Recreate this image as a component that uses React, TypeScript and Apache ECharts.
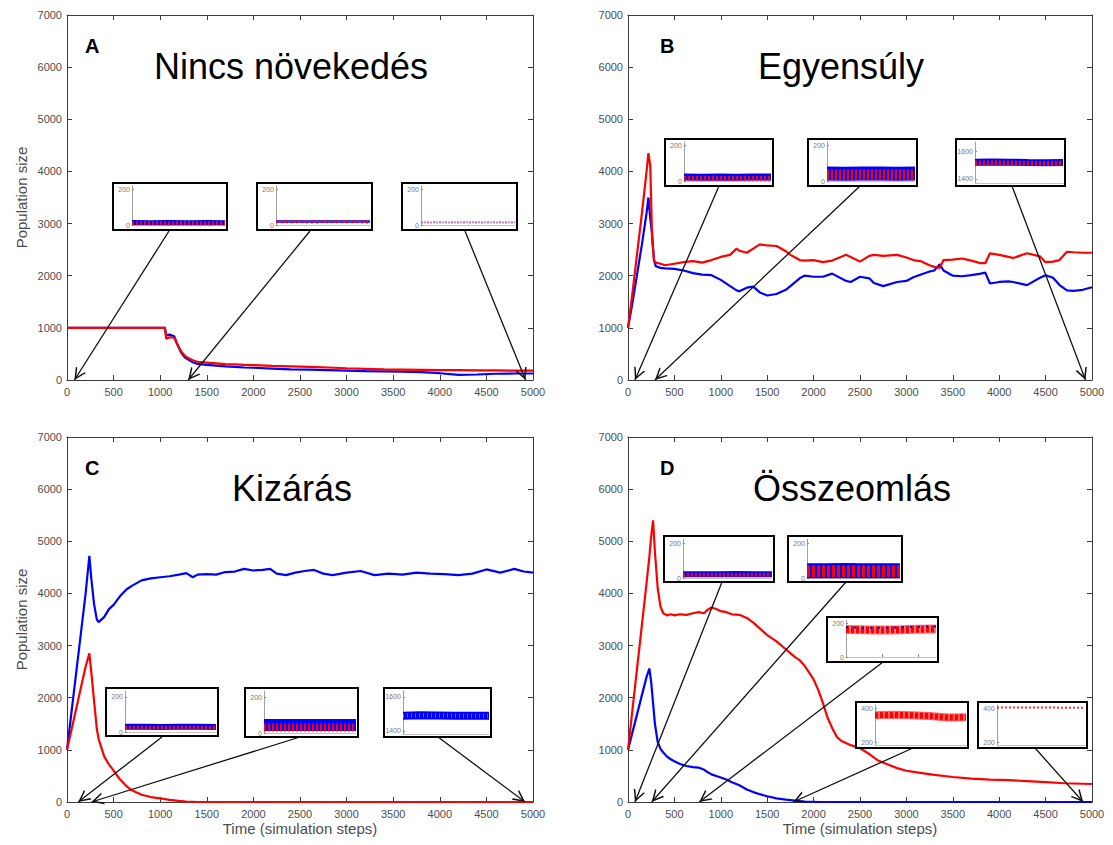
import React, { useEffect, useRef } from "react";
import * as echarts from "echarts";

// ---------------- Panel A: Nincs növekedés ----------------
const aTime = [0, 500, 1000, 1050, 1065, 1100, 1150, 1180, 1220, 1260, 1300, 1350, 1400, 1500, 1600, 1700, 1800, 1900, 2000, 2200, 2400, 2600, 2800, 3000, 3200, 3400, 3600, 3800, 4000, 4200, 4400, 4600, 4800, 5000];
const aRed = [1000, 1000, 1000, 1000, 790, 820, 810, 700, 560, 470, 420, 380, 350, 335, 320, 305, 300, 290, 285, 270, 260, 250, 240, 225, 215, 205, 200, 195, 190, 190, 185, 185, 180, 180];
const aBlue = [1000, 1000, 1000, 1000, 860, 870, 840, 700, 540, 440, 390, 340, 310, 290, 275, 260, 250, 240, 235, 220, 205, 200, 190, 180, 170, 165, 160, 150, 130, 100, 105, 120, 125, 125];
const aArrowT = [80, 1300, 4920];

// ---------------- Panel B: Egyensúly ----------------
const bTime = [0, 50, 100, 150, 200, 220, 240, 260, 280, 300, 350, 400, 500, 600, 700, 800, 900, 1000, 1100, 1170, 1200, 1280, 1350, 1420, 1500, 1600, 1700, 1750, 1850, 1900, 2000, 2100, 2200, 2350, 2400, 2500, 2600, 2650, 2750, 2900, 3000, 3075, 3150, 3250, 3300, 3360, 3400, 3500, 3600, 3700, 3800, 3850, 3900, 4000, 4100, 4150, 4300, 4440, 4500, 4580, 4650, 4730, 4800, 4900, 5000];
const bRed = [1000, 1700, 2450, 3200, 4000, 4350, 4100, 2700, 2300, 2250, 2230, 2200, 2230, 2260, 2280, 2250, 2300, 2360, 2400, 2520, 2480, 2440, 2520, 2600, 2580, 2570, 2470, 2400, 2300, 2290, 2300, 2260, 2290, 2400, 2360, 2270, 2380, 2400, 2380, 2400, 2350, 2300, 2280, 2200, 2170, 2150, 2300, 2310, 2330, 2290, 2240, 2240, 2430, 2400, 2360, 2340, 2430, 2370, 2260, 2270, 2300, 2460, 2450, 2440, 2440];
const bBlue = [1000, 1500, 2050, 2600, 3200, 3500, 3100, 2800, 2300, 2180, 2150, 2140, 2130, 2100, 2050, 2020, 2010, 1920, 1800, 1720, 1700, 1770, 1790, 1680, 1620, 1650, 1730, 1800, 1950, 2000, 1980, 1980, 2040, 1900, 1880, 1980, 1950, 1860, 1800, 1880, 1900, 1970, 2020, 2080, 2100, 2220, 2100, 2000, 1990, 2010, 2040, 2060, 1850, 1880, 1890, 1880, 1820, 1960, 2010, 1960, 1820, 1720, 1710, 1730, 1780];
const bArrowT = [75, 290, 4930];

// ---------------- Panel C: Kizárás ----------------
const cTime = [0, 50, 100, 150, 200, 240, 260, 290, 320, 340, 400, 450, 500, 570, 640, 700, 800, 900, 1000, 1100, 1200, 1280, 1350, 1400, 1500, 1600, 1700, 1800, 1900, 2000, 2100, 2180, 2250, 2350, 2450, 2550, 2650, 2750, 2850, 3000, 3150, 3300, 3450, 3600, 3750, 3900, 4050, 4200, 4350, 4500, 4650, 4800, 4900, 5000];
const cBlue = [1000, 1750, 2500, 3250, 4000, 4720, 4300, 3800, 3500, 3450, 3550, 3700, 3780, 3950, 4080, 4150, 4250, 4290, 4310, 4330, 4360, 4390, 4310, 4360, 4370, 4360, 4410, 4420, 4470, 4440, 4450, 4470, 4380, 4350, 4400, 4430, 4450, 4380, 4350, 4400, 4430, 4350, 4380, 4360, 4400, 4380, 4370, 4350, 4380, 4460, 4400, 4470, 4420, 4400];
const cRed = [1000, 1400, 1800, 2200, 2600, 2850, 2500, 1950, 1400, 1200, 870, 720, 600, 430, 300, 220, 140, 95, 70, 40, 20, 10, 5, 0, 0, 0, 0, 0, 0, 0, 0, 0, 0, 0, 0, 0, 0, 0, 0, 0, 0, 0, 0, 0, 0, 0, 0, 0, 0, 0, 0, 0, 0, 0];
const cArrowT = [120, 262, 4915];

// ---------------- Panel D: Összeomlás ----------------
const dTime = [0, 50, 100, 150, 200, 230, 250, 270, 290, 320, 350, 380, 420, 460, 500, 560, 630, 700, 760, 820, 860, 900, 950, 1000, 1060, 1120, 1200, 1280, 1350, 1420, 1500, 1600, 1700, 1800, 1850, 1900, 2000, 2050, 2100, 2150, 2200, 2250, 2300, 2400, 2500, 2600, 2700, 2800, 2900, 3000, 3150, 3300, 3500, 3700, 3900, 4100, 4300, 4500, 4700, 4900, 5000];
const dRed = [1000, 1800, 2600, 3400, 4200, 4700, 5100, 5400, 4800, 4100, 3750, 3620, 3580, 3600, 3580, 3600, 3590, 3620, 3640, 3620, 3690, 3730, 3700, 3660, 3640, 3600, 3590, 3530, 3440, 3330, 3200, 3080, 2930, 2780, 2720, 2620, 2350, 2150, 1900, 1620, 1420, 1250, 1170, 1090, 1030, 920, 790, 720, 650, 600, 560, 520, 480, 450, 430, 420, 400, 380, 360, 350, 345];
const dBlue = [1000, 1350, 1700, 2050, 2400, 2560, 2300, 1900, 1500, 1150, 1020, 950, 870, 820, 780, 730, 690, 670, 660, 620, 570, 530, 500, 470, 430, 380, 320, 240, 190, 150, 110, 70, 45, 25, 15, 10, 5, 0, 0, 0, 0, 0, 0, 0, 0, 0, 0, 0, 0, 0, 0, 0, 0, 0, 0, 0, 0, 0, 0, 0, 0];
const dArrowT = [75, 255, 768, 1781, 4905];

// ---------------- Inset bands (band centre values) ----------------
const insA1Blue = [14, 13, 14, 13, 14, 13];
const insA1Red = [10, 11, 10, 11, 10, 11];
const insA2Blue = [20, 19, 20, 20, 19, 20];
const insA2Red = [18, 18, 17, 18, 18, 17];
const insA3Blue = [14, 15, 14, 14, 15, 14];
const insA3Red = [15, 14, 15, 15, 14, 15];
const insB1Blue = [22, 21, 22, 21, 22, 22];
const insB1Red = [15, 16, 15, 16, 15, 16];
const insB2Blue = [42, 41, 42, 42, 41, 42];
const insB2Red = [35, 36, 35, 36, 35, 36];
const insB3Blue = [1522, 1524, 1522, 1520, 1519, 1520];
const insB3Red = [1516, 1518, 1516, 1514, 1513, 1515];
const insC1Blue = [30, 30, 29, 30, 30, 29];
const insC1Red = [24, 24, 25, 24, 24, 25];
const insC2Blue = [44, 45, 44, 45, 44, 45];
const insC2Red = [30, 30, 31, 30, 31, 30];
const insC3Blue = [1490, 1492, 1491, 1490, 1489, 1490];
const insD1Blue = [22, 21, 22, 23, 22, 22];
const insD1Red = [18, 18, 19, 18, 18, 19];
const insD2Blue = [42, 41, 43, 42, 41, 42];
const insD2Red = [38, 39, 38, 38, 39, 38];
const insD3Red = [165, 163, 162, 164, 167, 168];
const insD3Blue = [178, 176, 175, 178, 182, 183];
const insD4Red = [360, 362, 360, 355, 346, 348];
const insD5Red = [405, 406, 405, 405, 404, 403];

const xTickInterval = 500;
const yTickInterval = 1000;

const FONT = '"Liberation Sans", Arial, Helvetica, sans-serif';
const RED = "#ff0000";
const BLUE = "#0000ff";
const AXIS = "#3c3c3c";
const LABEL = "#4d4d4d";

const panels = [
  { letter: "A", title: "Nincs növekedés", left: 67, top: 15, width: 466, height: 365, titleX: 291, letterX: 85, time: aTime, red: aRed, blue: aBlue, arrowT: aArrowT, arrowFrom: [[169, 231], [310, 231], [465, 231]], yName: true, xName: false },
  { letter: "B", title: "Egyensúly", left: 628, top: 15, width: 464, height: 365, titleX: 841, letterX: 660, time: bTime, red: bRed, blue: bBlue, arrowT: bArrowT, arrowFrom: [[719, 186], [860, 186], [1012, 186]], yName: false, xName: false },
  { letter: "C", title: "Kizárás", left: 67, top: 437, width: 466, height: 365, titleX: 292, letterX: 85, time: cTime, red: cRed, blue: cBlue, arrowT: cArrowT, arrowFrom: [[162, 737], [300, 737], [438, 737]], yName: true, xName: true },
  { letter: "D", title: "Összeomlás", left: 628, top: 437, width: 464, height: 365, titleX: 852, letterX: 660, time: dTime, red: dRed, blue: dBlue, arrowT: dArrowT, arrowFrom: [[722, 582], [846, 582], [883, 662], [913, 748], [1035, 748]], yName: false, xName: true },
];

type Layer = { d: number[]; c: string; w: number; dash?: number[]; off?: number };
type Inset = { box: number[]; yMin: number; yMax: number; bOff: number; labels: number[]; xTicks?: number[]; layers: Layer[] };

const insets: Inset[] = [
  { box: [113, 183, 114, 47], yMin: 0, yMax: 217, bOff: 5, labels: [0, 200], layers: [{ d: insA1Blue, c: BLUE, w: 5 }, { d: insA1Red, c: RED, w: 4, dash: [2, 2] }] },
  { box: [257, 183, 115, 47], yMin: 0, yMax: 217, bOff: 5, labels: [0, 200], layers: [{ d: insA2Blue, c: "#3a3aff", w: 3 }, { d: insA2Red, c: RED, w: 3, dash: [2, 3] }] },
  { box: [402, 183, 115, 47], yMin: 0, yMax: 217, bOff: 5, labels: [0, 200], layers: [{ d: insA3Blue, c: "#7a7aff", w: 2, dash: [2, 4] }, { d: insA3Red, c: "#ff7a7a", w: 2, dash: [2, 4], off: 3 }] },
  { box: [665, 139, 108, 47], yMin: 0, yMax: 221, bOff: 5, labels: [0, 200], layers: [{ d: insB1Blue, c: BLUE, w: 7 }, { d: insB1Red, c: RED, w: 5, dash: [2, 2] }] },
  { box: [808, 139, 109, 47], yMin: 0, yMax: 221, bOff: 5, labels: [0, 200], layers: [{ d: insB2Blue, c: BLUE, w: 14 }, { d: insB2Red, c: RED, w: 11, dash: [2, 2] }] },
  { box: [956, 139, 109, 47], yMin: 1370, yMax: 1670, bOff: 3, labels: [1400, 1600], layers: [{ d: insB3Blue, c: BLUE, w: 7 }, { d: insB3Red, c: RED, w: 5, dash: [2, 2] }] },
  { box: [106, 688, 112, 48], yMin: 0, yMax: 234, bOff: 4, labels: [0, 200], layers: [{ d: insC1Blue, c: BLUE, w: 6 }, { d: insC1Red, c: RED, w: 4, dash: [2, 2] }] },
  { box: [245, 688, 113, 49], yMin: 0, yMax: 234, bOff: 4, labels: [0, 200], layers: [{ d: insC2Blue, c: BLUE, w: 12 }, { d: insC2Red, c: RED, w: 8, dash: [2, 2] }] },
  { box: [384, 688, 107, 49], yMin: 1382, yMax: 1635, bOff: 3, labels: [1400, 1600], layers: [{ d: insC3Blue, c: BLUE, w: 8 }, { d: insC3Blue, c: "#5c5cff", w: 4, dash: [1, 3] }] },
  { box: [664, 536, 110, 46], yMin: 0, yMax: 223, bOff: 4, labels: [0, 200], layers: [{ d: insD1Blue, c: BLUE, w: 6 }, { d: insD1Red, c: RED, w: 4, dash: [2, 2] }] },
  { box: [788, 536, 114, 46], yMin: 0, yMax: 223, bOff: 4, labels: [0, 200], layers: [{ d: insD2Blue, c: BLUE, w: 15 }, { d: insD2Red, c: RED, w: 12, dash: [3, 2] }] },
  { box: [827, 617, 111, 45], yMin: 0, yMax: 222, bOff: 5, labels: [0, 200], xTicks: [2, 4], layers: [{ d: insD3Red, c: "#ff7070", w: 9 }, { d: insD3Red, c: RED, w: 7, dash: [3, 2] }, { d: insD3Blue, c: BLUE, w: 2, dash: [2, 6] }] },
  { box: [856, 702, 112, 46], yMin: 185, yMax: 420, bOff: 3, labels: [200, 400], layers: [{ d: insD4Red, c: "#ff6060", w: 8 }, { d: insD4Red, c: RED, w: 6, dash: [3, 2] }] },
  { box: [978, 702, 109, 46], yMin: 185, yMax: 420, bOff: 3, labels: [200, 400], layers: [{ d: insD5Red, c: "#ff3030", w: 2, dash: [2, 2] }] },
];

const ARROW = "path://M5,0 L10,10 L8.6,10 L5,2.8 L1.4,10 L0,10 Z";
const plain = (v: number) => String(v);

function buildOption() {
  const grid: any[] = [];
  const xAxis: any[] = [];
  const yAxis: any[] = [];
  const series: any[] = [];
  const graphic: any[] = [];

  panels.forEach((p) => {
    const gi = grid.length;
    grid.push({ left: p.left, top: p.top, width: p.width, height: p.height });
    const xi = xAxis.length;
    const yi = yAxis.length;
    const xBase = {
      type: "value", gridIndex: gi, min: 0, max: 5000, interval: xTickInterval,
      axisLine: { show: true, onZero: false, lineStyle: { color: AXIS, width: 1 } },
      axisTick: { show: true, inside: true, length: 5, lineStyle: { color: AXIS } },
      splitLine: { show: false },
    };
    xAxis.push({
      ...xBase, position: "bottom",
      axisLabel: { show: true, color: LABEL, fontSize: 11, fontFamily: FONT, margin: 6, formatter: plain },
      name: p.xName ? "Time (simulation steps)" : "", nameLocation: "middle", nameGap: 19,
      nameTextStyle: { color: LABEL, fontSize: 15, fontFamily: FONT },
    });
    xAxis.push({ ...xBase, position: "top", axisLabel: { show: false } });
    const yBase = {
      type: "value", gridIndex: gi, min: 0, max: 7000, interval: yTickInterval,
      axisLine: { show: true, onZero: false, lineStyle: { color: AXIS, width: 1 } },
      axisTick: { show: true, inside: true, length: 5, lineStyle: { color: AXIS } },
      splitLine: { show: false },
    };
    yAxis.push({
      ...yBase, position: "left",
      axisLabel: { show: true, color: LABEL, fontSize: 11, fontFamily: FONT, margin: 5, formatter: plain },
      name: p.yName ? "Population size" : "", nameLocation: "middle", nameGap: 38,
      nameTextStyle: { color: LABEL, fontSize: 15, fontFamily: FONT },
    });
    yAxis.push({ ...yBase, position: "right", axisLabel: { show: false } });

    series.push({
      type: "line", xAxisIndex: xi, yAxisIndex: yi, silent: true, symbol: "none",
      data: p.time.map((t, i) => [t, p.blue[i]]),
      lineStyle: { color: BLUE, width: 2.2 }, z: 2,
    });
    series.push({
      type: "line", xAxisIndex: xi, yAxisIndex: yi, silent: true, symbol: "none",
      data: p.time.map((t, i) => [t, p.red[i]]),
      lineStyle: { color: RED, width: 2.2 }, z: 3,
      markLine: {
        silent: true, animation: false,
        symbol: ["none", ARROW], symbolSize: 12, symbolOffset: [0, [0, 6]],
        label: { show: false }, emphasis: { disabled: true },
        lineStyle: { color: "#111", width: 1.3, type: "solid" },
        itemStyle: { color: "#111" },
        data: p.arrowT.map((t, i) => [{ x: p.arrowFrom[i][0], y: p.arrowFrom[i][1] }, { coord: [t, 0] }]),
      },
    });

    graphic.push({
      type: "text", x: p.titleX, y: p.top + 51, z: 20,
      style: { text: p.title, font: `36px ${FONT}`, fill: "#000", align: "center", verticalAlign: "middle" },
    });
    graphic.push({
      type: "text", x: p.letterX, y: p.top + 31, z: 20,
      style: { text: p.letter, font: `bold 20px ${FONT}`, fill: "#000", align: "left", verticalAlign: "middle" },
    });
  });

  insets.forEach((ins) => {
    const [bx, by, bw, bh] = ins.box;
    graphic.push({
      type: "rect", z: 5, shape: { x: bx, y: by, width: bw, height: bh },
      style: { fill: "#fff", stroke: "#000", lineWidth: 2 },
    });
    const gi = grid.length;
    grid.push({ left: bx + 19, top: by + 3, width: bw - 21, height: bh - 3 - ins.bOff, z: 6 });
    const xi = xAxis.length;
    const yi = yAxis.length;
    xAxis.push({
      type: "value", gridIndex: gi, min: 0, max: 5, z: 6,
      axisLine: { show: true, onZero: false, lineStyle: { color: "#c4c4c4", width: 1 } },
      axisTick: ins.xTicks ? { show: true, inside: true, length: 3, customValues: ins.xTicks, lineStyle: { color: "#888" } } : { show: false },
      axisLabel: { show: false }, splitLine: { show: false },
    });
    yAxis.push({
      type: "value", gridIndex: gi, min: ins.yMin, max: ins.yMax, z: 6,
      axisLine: { show: true, onZero: false, lineStyle: { color: "#a0a0a0", width: 1 } },
      axisTick: { show: true, inside: true, length: 2, customValues: ins.labels, lineStyle: { color: "#888" } },
      axisLabel: { show: true, customValues: ins.labels, color: "#777", fontSize: 7, fontFamily: FONT, margin: 2, formatter: plain },
      splitLine: { show: false },
    });
    ins.layers.forEach((L) => {
      series.push({
        type: "line", xAxisIndex: xi, yAxisIndex: yi, silent: true, symbol: "none", z: 7,
        data: L.d.map((v, i) => [i, v]),
        lineStyle: { color: L.c, width: L.w, type: L.dash ? L.dash : "solid", dashOffset: L.off || 0, cap: "butt" },
      });
    });
  });

  return {
    animation: false,
    backgroundColor: "#fff",
    textStyle: { fontFamily: FONT },
    grid, xAxis, yAxis, series, graphic,
  };
}

export default function App() {
  const ref = useRef<HTMLDivElement>(null);
  useEffect(() => {
    if (!ref.current) return;
    const chart = echarts.init(ref.current, undefined, { renderer: "svg" });
    chart.setOption(buildOption() as any);
    return () => chart.dispose();
  }, []);
  return (
    <div
      ref={ref}
      style={{ position: "fixed", left: 0, top: 0, width: 1113, height: 845, background: "#fff" }}
    />
  );
}
